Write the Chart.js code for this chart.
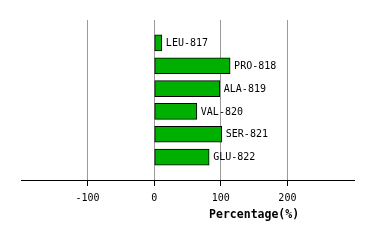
<!DOCTYPE html>
<html>
<head>
<meta charset="utf-8">
<script src="https://cdn.jsdelivr.net/npm/chart.js@4"></script>
<style>
  html, body { margin: 0; padding: 0; background: #fff; }
  #wrap { width: 374px; height: 240px; }
</style>
</head>
<body>
<div id="wrap"><canvas id="chart" width="374" height="240"></canvas></div>
<script>
// Data
const residues = ['LEU-817', 'PRO-818', 'ALA-819', 'VAL-820', 'SER-821', 'GLU-822'];
const percentages = [11.5, 114, 98.5, 64, 101.5, 82.5];
const tickValues = [-100, 0, 100, 200];
const axisMin = -200;
const axisMax = 300;

// blank slots above and below so the bars sit inside the frame
const labels = [''].concat(residues, ['']);
const values = [null].concat(percentages, [null]);

const monoFont = '"DejaVu Sans Mono", monospace';

// residue names next to the bar ends, and the axis title
const barLabels = {
    id: 'barLabels',
    afterDatasetsDraw(chart) {
        const ctx = chart.ctx;
        const meta = chart.getDatasetMeta(0);
        ctx.save();
        ctx.font = '10px ' + monoFont;
        ctx.fillStyle = '#000';
        ctx.textBaseline = 'middle';
        ctx.textAlign = 'left';
        meta.data.forEach((bar, i) => {
            if (values[i] === null) return;
            ctx.fillText(labels[i], bar.x + 4, bar.y + 0.5);
        });
        const xScale = chart.scales.x;
        ctx.font = 'bold 11.5px ' + monoFont;
        ctx.textAlign = 'center';
        ctx.fillText('Percentage(%)', xScale.getPixelForValue(150), 215.5);
        ctx.restore();
    }
};

new Chart(document.getElementById('chart').getContext('2d'), {
    type: 'bar',
    data: {
        labels: labels,
        datasets: [{
            data: values,
            backgroundColor: '#00b000',
            borderColor: '#000',
            borderWidth: 1,
            borderSkipped: false,
            barThickness: 16
        }]
    },
    options: {
        indexAxis: 'y',
        responsive: false,
        animation: false,
        layout: { padding: { left: 21, right: 20, top: 20, bottom: 0 } },
        plugins: {
            legend: { display: false },
            tooltip: { enabled: false }
        },
        scales: {
            x: {
                type: 'linear',
                min: axisMin,
                max: axisMax,
                afterBuildTicks(scale) {
                    scale.ticks = tickValues.map(v => ({ value: v }));
                },
                afterFit(scale) {
                    scale.height = 60;
                },
                grid: {
                    color: '#9a9a9a',
                    tickColor: '#000',
                    tickLength: 6,
                    lineWidth: 1
                },
                border: { color: '#000', width: 1 },
                ticks: {
                    color: '#000',
                    padding: 6,
                    font: { family: monoFont, size: 10 }
                }
            },
            y: {
                display: false,
                offset: false
            }
        }
    },
    plugins: [barLabels]
});
</script>
</body>
</html>
